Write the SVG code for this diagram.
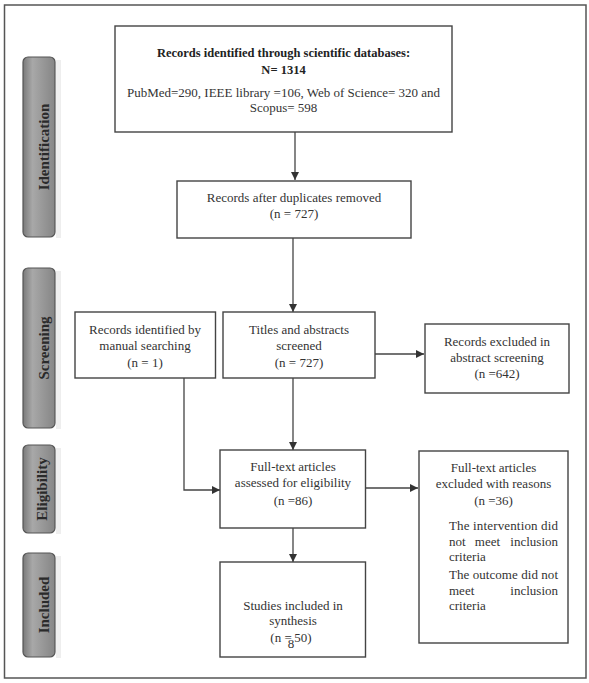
<svg xmlns="http://www.w3.org/2000/svg" width="589" height="683" viewBox="0 0 589 683">
<style>
.box{fill:#fff;stroke:#444;stroke-width:1.4}
.t{font-family:"Liberation Serif",serif;font-size:13px;fill:#333;text-anchor:middle}
.b{font-weight:bold;fill:#222;font-size:12.5px}
.s{text-anchor:start}
.e{text-anchor:end}
.tab{fill:url(#g);stroke:#555;stroke-width:1.2}
.tt{font-family:"Liberation Serif",serif;font-size:15px;font-weight:bold;fill:#2a2a2a;text-anchor:middle}
.c{fill:none;stroke:#444;stroke-width:1.3}
</style>
<defs>
<linearGradient id="g" x1="0" y1="0" x2="1" y2="0">
<stop offset="0" stop-color="#7a7a7a"/>
<stop offset="0.3" stop-color="#a8a8a8"/>
<stop offset="1" stop-color="#858585"/>
</linearGradient>
<marker id="a" viewBox="0 0 10 10" refX="10" refY="5" markerWidth="8" markerHeight="8" markerUnits="userSpaceOnUse" orient="auto">
<path d="M0,0 L10,5 L0,10 z" fill="#333"/>
</marker>
</defs>
<rect width="589" height="683" fill="#fff"/>
<rect x="4.5" y="5" width="581.5" height="673" fill="none" stroke="#555" stroke-width="1.5"/>

<g id="tab-identification"><rect x="56" y="60" width="5" height="178" fill="#eee"/><rect class="tab" x="23" y="57" width="32" height="180" rx="5"/><text class="tt" transform="translate(49,147) rotate(-90)">Identification</text></g>
<g id="tab-screening"><rect x="56" y="271" width="5" height="158" fill="#eee"/><rect class="tab" x="23" y="268" width="32" height="160" rx="5"/><text class="tt" transform="translate(49,348) rotate(-90)">Screening</text></g>
<g id="tab-eligibility"><rect x="56" y="448" width="5" height="86" fill="#eee"/><rect class="tab" x="23" y="445" width="32" height="88" rx="5"/><text class="tt" font-size="13" transform="translate(47,489) rotate(-90)">Eligibility</text></g>
<g id="tab-included"><rect x="56" y="556" width="5" height="102" fill="#eee"/><rect class="tab" x="23" y="553" width="32" height="104" rx="5"/><text class="tt" transform="translate(49,605) rotate(-90)">Included</text></g>

<g id="connectors">
<line class="c" x1="295" y1="132" x2="295" y2="180" marker-end="url(#a)"/>
<line class="c" x1="293" y1="238" x2="293" y2="312" marker-end="url(#a)"/>
<polyline class="c" points="184,378 184,490 220,490" marker-end="url(#a)"/>
<line class="c" x1="293" y1="378" x2="293" y2="450" marker-end="url(#a)"/>
<line class="c" x1="365" y1="354" x2="424" y2="354" marker-end="url(#a)"/>
<line class="c" x1="365" y1="488" x2="418" y2="488" marker-end="url(#a)"/>
<line class="c" x1="293" y1="528" x2="293" y2="562" marker-end="url(#a)"/>
</g>

<g id="n-records-db"><rect class="box" x="115" y="26" width="337" height="106"/>
<text class="t b" x="283.5" y="57">Records identified through scientific databases:</text>
<text class="t b" x="283.5" y="74">N= 1314</text>
<text class="t" x="283.5" y="97">PubMed=290, IEEE library =106, Web of Science= 320 and</text>
<text class="t" x="283.5" y="112">Scopus= 598</text></g>

<g id="n-duplicates"><rect class="box" x="177" y="181" width="234" height="57"/>
<text class="t" x="294" y="202">Records after duplicates removed</text>
<text class="t" x="294" y="218">(n = 727)</text></g>

<g id="n-manual"><rect class="box" x="75" y="312" width="140.5" height="66"/>
<text class="t" x="145" y="334">Records identified by</text>
<text class="t" x="145" y="350">manual searching</text>
<text class="t" x="145" y="367">(n = 1)</text></g>

<g id="n-titles"><rect class="box" x="223" y="312" width="152" height="66"/>
<text class="t" x="299" y="334">Titles and abstracts</text>
<text class="t" x="299" y="350">screened</text>
<text class="t" x="299" y="367">(n = 727)</text></g>

<g id="n-excluded-abstract"><rect class="box" x="425" y="324" width="144" height="69"/>
<text class="t" x="497" y="346">Records excluded in</text>
<text class="t" x="497" y="362">abstract screening</text>
<text class="t" x="497" y="378">(n =642)</text></g>

<g id="n-fulltext"><rect class="box" x="220" y="450" width="145.5" height="78"/>
<text class="t" x="293" y="471">Full-text articles</text>
<text class="t" x="293" y="487">assessed for eligibility</text>
<text class="t" x="293" y="505">(n =86)</text></g>

<g id="n-excluded-reasons"><rect class="box" x="419" y="451" width="149" height="192"/>
<text class="t" x="493.5" y="472">Full-text articles</text>
<text class="t" x="493.5" y="488">excluded with reasons</text>
<text class="t" x="493.5" y="505">(n =36)</text>
<text class="t s" x="449" y="530" textLength="109" lengthAdjust="spacing">The intervention did</text>
<text class="t s" x="449" y="546">not</text><text class="t" x="487.5" y="546">meet</text><text class="t e" x="558" y="546">inclusion</text>
<text class="t s" x="449" y="561">criteria</text>
<text class="t s" x="449" y="579" textLength="109" lengthAdjust="spacing">The outcome did not</text>
<text class="t s" x="449" y="595">meet</text><text class="t e" x="558" y="595">inclusion</text>
<text class="t s" x="449" y="610">criteria</text></g>

<g id="n-included"><rect class="box" x="220" y="562" width="145.5" height="95"/>
<text class="t" x="293" y="610">Studies included in</text>
<text class="t" x="293" y="625">synthesis</text>
<text class="t" x="291" y="642">(n =<tspan dx="-4" dy="6">8</tspan><tspan dy="-6">50)</tspan></text></g>
</svg>
